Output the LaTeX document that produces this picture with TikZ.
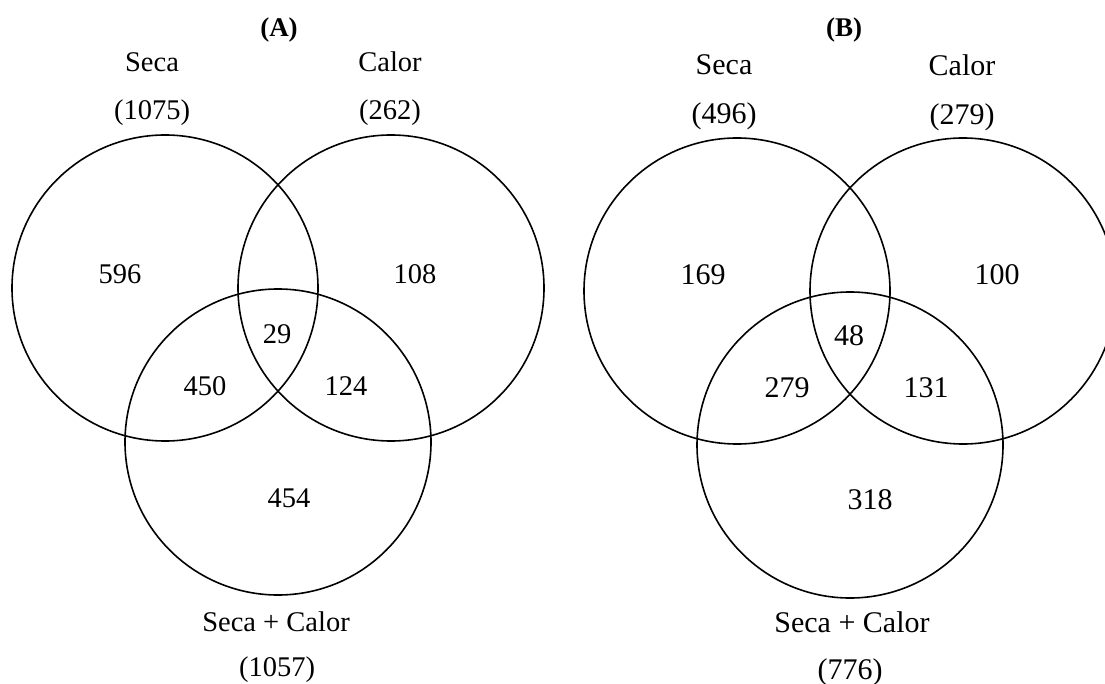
\documentclass[tikz,border=0pt]{standalone}
\usepackage{fontspec}
\setmainfont{Liberation Serif}
\begin{document}
\begin{tikzpicture}[x=1pt,y=-1pt,
  venn/.style={draw=black, circle, line width=1.6pt, minimum size=306pt, inner sep=0pt},
  lblA/.style={font=\fontsize{28.5}{30}\selectfont, inner sep=0pt},
  lblB/.style={font=\fontsize{30}{32}\selectfont, inner sep=0pt},
  ttl/.style={font=\fontsize{27}{29}\selectfont\bfseries, inner sep=0pt}]
\useasboundingbox (0,0) rectangle (1105,684);
\clip (0,0) rectangle (1105,684);
% ---- (A) ----
\node[venn] (aSeca) at (165,288) {};
\node[venn] (aCalor) at (391,288) {};
\node[venn] (aBoth) at (278,442) {};
\node[ttl] (aT) at (279,30) {(A)};
\node[lblA] (aS) at (152,62) {Seca};
\node[lblA] (aSn) at (152,113) {(1075)};
\node[lblA] (aC) at (390,62) {Calor};
\node[lblA] (aCn) at (390,113) {(262)};
\node[lblA] (a1) at (120,274) {596};
\node[lblA] (a2) at (415,274) {108};
\node[lblA] (a3) at (277,334) {29};
\node[lblA] (a4) at (205,386) {450};
\node[lblA] (a5) at (346,386) {124};
\node[lblA] (a6) at (289,498) {454};
\node[lblA] (aB) at (276,622) {Seca + Calor};
\node[lblA] (aBn) at (277,670) {(1057)};
% ---- (B) ----
\node[venn] (bSeca) at (737,291) {};
\node[venn] (bCalor) at (963,291) {};
\node[venn] (bBoth) at (850,445) {};
\node[ttl] (bT) at (844,30) {(B)};
\node[lblB] (bS) at (724,65) {Seca};
\node[lblB] (bSn) at (724,116) {(496)};
\node[lblB] (bC) at (962,65) {Calor};
\node[lblB] (bCn) at (962,117) {(279)};
\node[lblB] (b1) at (703,275) {169};
\node[lblB] (b2) at (997,275) {100};
\node[lblB] (b3) at (849,336) {48};
\node[lblB] (b4) at (787,388) {279};
\node[lblB] (b5) at (926,388) {131};
\node[lblB] (b6) at (870,500) {318};
\node[lblB] (bB) at (852,622) {Seca + Calor};
\node[lblB] (bBn) at (850,672) {(776)};
\end{tikzpicture}
\end{document}
